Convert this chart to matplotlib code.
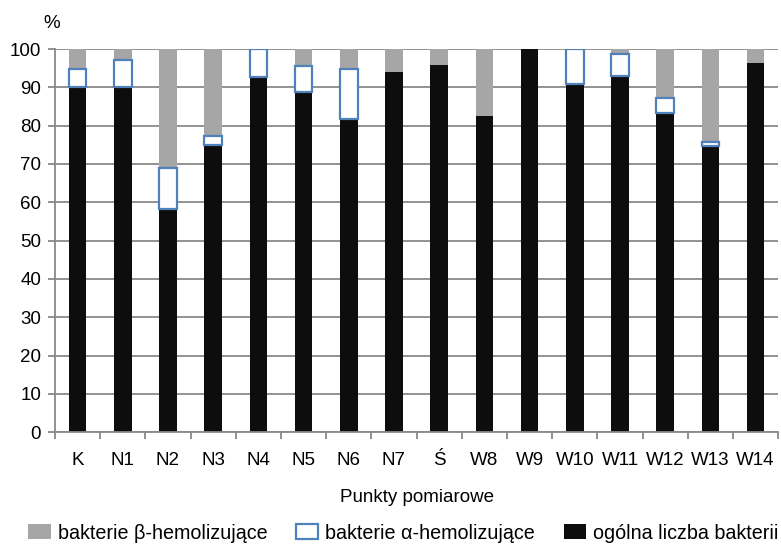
import matplotlib
matplotlib.use("Agg")
import matplotlib.pyplot as plt
import numpy as np

plt.rcParams['font.family'] = ['Liberation Sans', 'DejaVu Sans']

points = ["K", "N1", "N2", "N3", "N4", "N5", "N6", "N7", "Ś",
          "W8", "W9", "W10", "W11", "W12", "W13", "W14"]
total = [90.2, 90.0, 58.2, 74.9, 92.8, 88.8, 81.8, 93.9, 95.8,
         82.4, 100.0, 90.9, 93.0, 83.2, 74.7, 96.3]
alpha = [4.5, 7.1, 10.8, 2.4, 7.2, 6.8, 13.0, 0.0, 0.0,
         0.0, 0.0, 9.1, 5.7, 4.0, 1.1, 0.0]
beta = [5.3, 2.9, 31.0, 22.7, 0.0, 4.4, 5.2, 6.1, 4.2,
        17.6, 0.0, 0.0, 1.3, 12.8, 24.2, 3.7]

grid_c = "#898989"
x = np.arange(len(points))
w = 0.39

fig = plt.figure(figsize=(7.81, 5.45), dpi=100)
ax = fig.add_axes([0.0704, 0.207, 0.926, 0.703])

b_tot = ax.bar(x, total, w, color="#0d0d0d", zorder=2,
               label="ogólna liczba bakterii")
a_bot = np.array(total)
has_a = np.array(alpha) > 0
b_alpha = ax.bar(x[has_a], np.array(alpha)[has_a], w, bottom=a_bot[has_a],
                 facecolor="white", edgecolor="#4f81bd", linewidth=1.6,
                 zorder=3, label="bakterie α-hemolizujące")
b_beta = ax.bar(x, beta, w, bottom=a_bot + np.array(alpha), color="#a6a6a6",
                zorder=2, label="bakterie β-hemolizujące")

ax.set_xlim(-0.5, len(points) - 0.5)
ax.set_ylim(0, 100)
ax.set_yticks(range(0, 101, 10))
ax.yaxis.grid(True, color=grid_c, linewidth=1.3, zorder=0)
ax.set_axisbelow(True)
for s in ["top", "right"]:
    ax.spines[s].set_visible(False)
ax.spines["left"].set_color(grid_c)
ax.spines["bottom"].set_color(grid_c)
ax.spines["left"].set_linewidth(1.3)
ax.spines["bottom"].set_linewidth(1.3)

ax.set_xticks(x)
ax.set_xticklabels(points, fontsize=13.5)
ax.tick_params(axis="x", length=0, pad=14)
ax.set_xticks(np.arange(-0.5, len(points), 1.0), minor=True)
ax.tick_params(axis="x", which="minor", length=5, color=grid_c, width=1.3)
ax.tick_params(axis="y", labelsize=13.5, length=5, color=grid_c, width=1.3, pad=5)

ax.set_xlabel("Punkty pomiarowe", fontsize=13.5, labelpad=15)
fig.text(0.066, 0.957, "%", fontsize=13.5, ha="center", va="center")

fig.legend(handles=[b_beta, b_alpha, b_tot], loc="center left",
           bbox_to_anchor=(28 / 781, 0.022), ncol=3, frameon=False, fontsize=14.2,
           handlelength=1.15, handleheight=0.8, handletextpad=0.35,
           columnspacing=1.45, borderaxespad=0, borderpad=0)

fig.savefig("out.png", dpi=100)
